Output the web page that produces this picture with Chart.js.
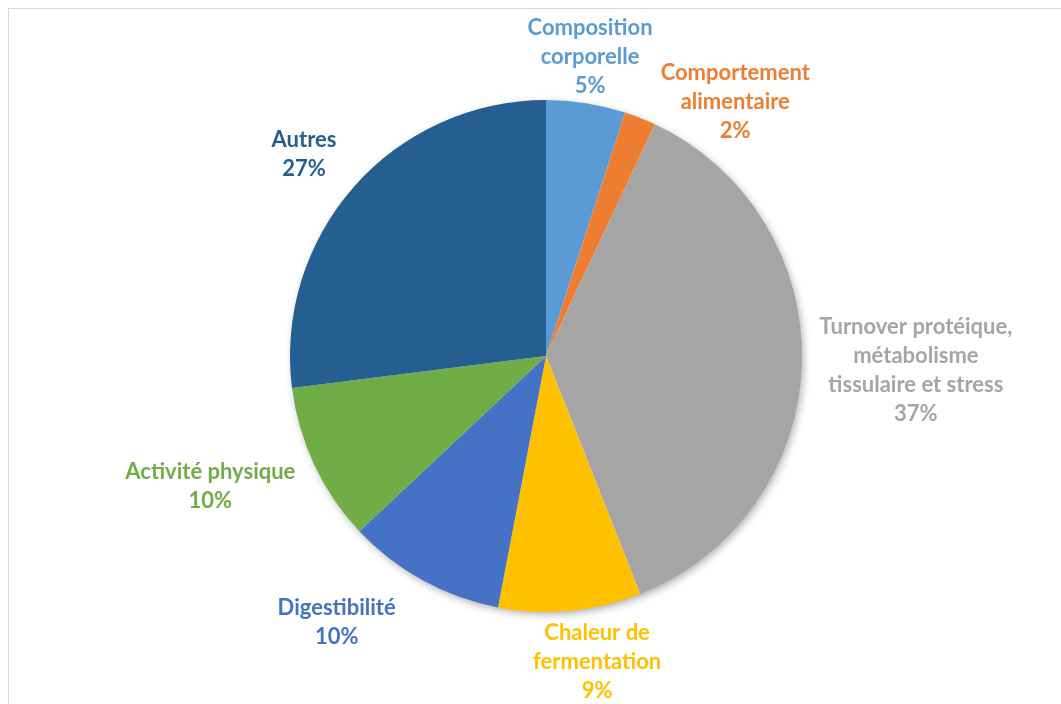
<!DOCTYPE html>
<html>
<head>
<meta charset="utf-8">
<script src="https://cdn.jsdelivr.net/npm/chart.js@4/dist/chart.umd.min.js"></script>
<style>
  html, body { margin: 0; padding: 0; background: #fff; overflow: hidden; }
  #frame {
    position: absolute; left: 8px; top: 8px; width: 1100px; height: 760px;
    border-top: 1px solid #d9d9d9; border-left: 1px solid #d9d9d9;
  }
  #wrap { position: absolute; left: 0; top: 0; width: 1061px; height: 704px; }
</style>
</head>
<body>
<div id="frame"></div>
<div id="wrap"><canvas id="chart"></canvas></div>
<script>
  // categories (one entry per slice, already split into display lines)
  const categories = [
    ['Composition', 'corporelle'],
    ['Comportement', 'alimentaire'],
    ['Turnover protéique,', 'métabolisme', 'tissulaire et stress'],
    ['Chaleur de', 'fermentation'],
    ['Digestibilité'],
    ['Activité physique'],
    ['Autres']
  ];

  // share of each slice, %
  const shares = [5, 2, 37, 9, 10, 10, 27];

  const colors = ['#5B9BD5', '#ED7D31', '#A5A5A5', '#FFC000', '#4472C4', '#70AD47', '#255E91'];

  // label nudges relative to the outer middle point of each slice (px)
  const labelOffsets = [
    [4, -46], [95, -16], [114, 6], [27, 51], [-86, 42], [-104, 21], [-50, -32]
  ];

  const FONT = 'bold 22px Lato, "Open Sans", sans-serif';
  const LINE_HEIGHT = 29;

  const pieShadow = {
    id: 'pieShadow',
    beforeDatasetsDraw(chart) {
      const arc = chart.getDatasetMeta(0).data[0];
      if (!arc) return;
      const { x, y, outerRadius } = arc.getProps(['x', 'y', 'outerRadius'], true);
      const ctx = chart.ctx;
      ctx.save();
      ctx.shadowColor = 'rgba(0,0,0,0.35)';
      ctx.shadowBlur = 9;
      ctx.shadowOffsetX = 2;
      ctx.shadowOffsetY = 3;
      ctx.fillStyle = '#ffffff';
      ctx.beginPath();
      ctx.arc(x, y, outerRadius - 1, 0, Math.PI * 2);
      ctx.fill();
      ctx.restore();
    }
  };

  const outsideLabels = {
    id: 'outsideLabels',
    afterDatasetsDraw(chart) {
      const ctx = chart.ctx;
      const meta = chart.getDatasetMeta(0);
      ctx.save();
      ctx.font = FONT;
      ctx.textAlign = 'center';
      ctx.textBaseline = 'middle';
      meta.data.forEach((arc, i) => {
        const p = arc.getProps(['x', 'y', 'startAngle', 'endAngle', 'outerRadius'], true);
        const mid = (p.startAngle + p.endAngle) / 2;
        const cx = p.x + Math.cos(mid) * p.outerRadius + labelOffsets[i][0];
        const cy = p.y + Math.sin(mid) * p.outerRadius + labelOffsets[i][1];
        const lines = categories[i].concat([shares[i] + '%']);
        const top = cy - (lines.length - 1) * LINE_HEIGHT / 2;
        ctx.fillStyle = colors[i];
        lines.forEach((line, k) => ctx.fillText(line, cx, top + k * LINE_HEIGHT));
      });
      ctx.restore();
    }
  };

  new Chart(document.getElementById('chart').getContext('2d'), {
    type: 'pie',
    data: {
      labels: categories.map(c => c.join(' ')),
      datasets: [{
        data: shares,
        backgroundColor: colors,
        borderWidth: 0
      }]
    },
    options: {
      responsive: true,
      maintainAspectRatio: false,
      animation: false,
      layout: {
        padding: { left: 290, right: 259, top: 100, bottom: 92 }
      },
      plugins: {
        legend: { display: false },
        tooltip: { enabled: false }
      }
    },
    plugins: [pieShadow, outsideLabels]
  });
</script>
</body>
</html>
